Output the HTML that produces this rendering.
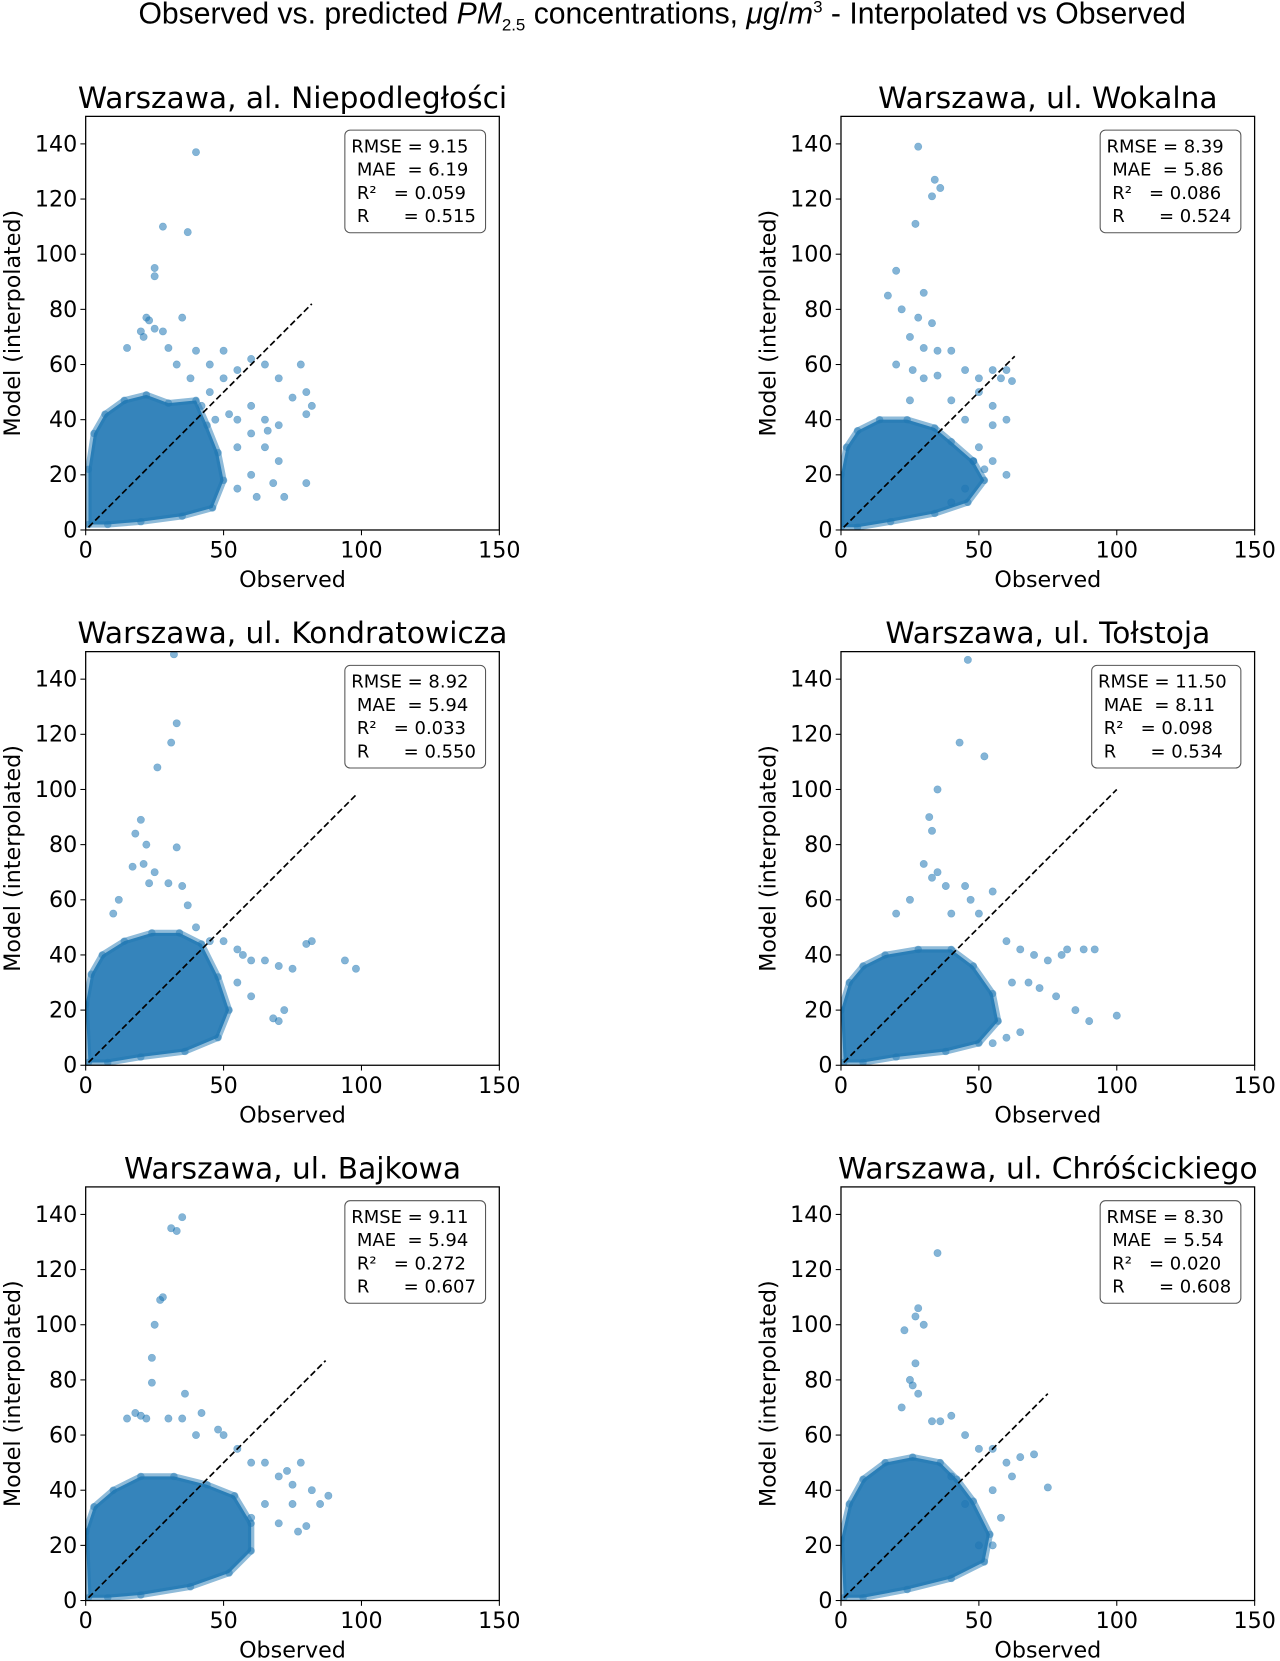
<!DOCTYPE html>
<html><head><meta charset="utf-8">
<style>
body{margin:0;background:#fff;}
svg{display:block;font-family:"DejaVu Sans","Liberation Sans",sans-serif;}
</style></head>
<body>
<svg width="1280" height="1661" viewBox="0 0 1280 1661">
<g id="chart" transform="scale(1.05785)">
<text x="626" y="22" text-anchor="middle" font-size="28.5" font-family="Liberation Sans, sans-serif">Observed vs. predicted <tspan font-style="italic">PM</tspan><tspan font-size="16" dy="7">2.5</tspan><tspan dy="-7"> concentrations, </tspan><tspan font-style="italic">μg</tspan>/<tspan font-style="italic">m</tspan><tspan font-size="16" dy="-10">3</tspan><tspan dy="10"> - Interpolated vs Observed</tspan></text>
</g>
</svg>
<script>
const panelTitles=["Warszawa, al. Niepodległości","Warszawa, ul. Wokalna","Warszawa, ul. Kondratowicza","Warszawa, ul. Tołstoja","Warszawa, ul. Bajkowa","Warszawa, ul. Chróścickiego"];
const rmseVals=["9.15","8.39","8.92","11.50","9.11","8.30"];
const maeVals=["6.19","5.86","5.94","8.11","5.94","5.54"];
const r2Vals=["0.059","0.086","0.033","0.098","0.272","0.020"];
const rVals=["0.515","0.524","0.550","0.534","0.607","0.608"];
const lineMax=[82,63,98,100,87,75];
const xTicks=[0,50,100,150];
const yTicks=[0,20,40,60,80,100,120,140];
const coreP1=[[1,2],[1,22],[3,35],[7,42],[14,47],[22,49],[30,46],[40,47],[44,38],[48,28],[50,18],[46,8],[35,5],[20,3],[8,2]];
const coreP2=[[0,1],[0,20],[2,30],[6,36],[14,40],[24,40],[34,37],[40,32],[48,25],[52,18],[46,10],[34,6],[18,3],[6,1]];
const coreP3=[[1,1],[0,22],[2,33],[6,40],[14,45],[24,48],[34,48],[42,44],[48,32],[52,20],[48,10],[36,5],[20,3],[8,1]];
const coreP4=[[1,1],[0,20],[3,30],[8,36],[16,40],[28,42],[40,42],[48,36],[55,26],[57,16],[50,8],[38,5],[20,3],[8,1]];
const coreP5=[[1,1],[0,25],[3,34],[10,40],[20,45],[32,45],[44,42],[54,38],[60,28],[60,18],[52,10],[38,5],[20,2],[8,1]];
const coreP6=[[1,1],[0,22],[3,35],[8,44],[16,50],[26,52],[36,50],[42,44],[48,36],[54,24],[52,14],[40,8],[24,4],[8,1]];
const outP1=[[40,137],[28,110],[37,108],[25,95],[25,92],[22,77],[23,76],[35,77],[20,72],[21,70],[25,73],[28,72],[15,66],[30,66],[40,65],[50,65],[45,60],[55,58],[60,62],[65,60],[70,55],[78,60],[80,50],[82,45],[80,42],[75,48],[60,45],[65,40],[70,38],[60,35],[55,30],[65,30],[70,25],[60,20],[55,15],[68,17],[80,17],[72,12],[62,12],[50,55],[45,50],[33,60],[38,55],[42,45],[52,42],[55,40],[47,40],[66,36]];
const outP2=[[28,139],[34,127],[36,124],[33,121],[27,111],[20,94],[30,86],[17,85],[22,80],[28,77],[33,75],[25,70],[30,66],[35,65],[40,65],[20,60],[26,58],[30,55],[35,56],[45,58],[50,55],[55,58],[58,55],[60,58],[62,54],[50,50],[55,45],[60,40],[55,38],[45,40],[40,47],[25,47],[50,30],[55,25],[60,20],[52,22],[48,25],[45,15],[40,10]];
const outP3=[[32,149],[33,124],[31,117],[26,108],[20,89],[18,84],[22,80],[33,79],[17,72],[21,73],[25,70],[23,66],[30,66],[35,65],[12,60],[37,58],[10,55],[40,50],[45,45],[50,45],[55,42],[57,40],[60,38],[65,38],[70,36],[75,35],[80,44],[82,45],[94,38],[98,35],[68,17],[70,16],[72,20],[60,25],[55,30]];
const outP4=[[46,147],[43,117],[52,112],[35,100],[32,90],[33,85],[30,73],[35,70],[33,68],[38,65],[45,65],[47,60],[55,63],[50,55],[25,60],[20,55],[40,55],[60,45],[65,42],[70,40],[75,38],[80,40],[82,42],[88,42],[92,42],[62,30],[68,30],[72,28],[78,25],[85,20],[90,16],[100,18],[60,10],[55,8],[65,12]];
const outP5=[[35,139],[31,135],[33,134],[28,110],[27,109],[25,100],[24,88],[24,79],[36,75],[15,66],[18,68],[20,67],[22,66],[30,66],[35,66],[42,68],[48,62],[40,60],[50,60],[55,55],[60,50],[65,50],[70,45],[73,47],[75,42],[78,50],[82,40],[88,38],[85,35],[75,35],[65,35],[60,30],[70,28],[77,25],[80,27]];
const outP6=[[35,126],[28,106],[27,103],[30,100],[23,98],[27,86],[25,80],[26,78],[28,75],[33,65],[36,65],[40,67],[22,70],[45,60],[50,55],[55,55],[60,50],[65,52],[70,53],[75,41],[62,45],[55,40],[58,30],[55,20],[50,20],[45,35],[40,45]];
const cores=[coreP1,coreP2,coreP3,coreP4,coreP5,coreP6];
const outs=[outP1,outP2,outP3,outP4,outP5,outP6];
const origins=[[81,501],[795,501],[81,1007],[795,1007],[81,1513],[795,1513]];
const S=2.607, W=391;
const NS="http://www.w3.org/2000/svg";
const svg=document.getElementById('chart');
function mk(tag,attrs,parent,text){const e=document.createElementNS(NS,tag);for(const k in attrs)e.setAttribute(k,attrs[k]);if(text!==undefined)e.textContent=text;parent.appendChild(e);return e;}
for(let p=0;p<6;p++){
  const [ox,oy]=origins[p];
  const sx=v=>ox+v*S, sy=v=>oy-v*S;
  const g=mk('g',{},svg);
  
  
  const clipId='clip'+p;
  const cp=mk('clipPath',{id:clipId},g);mk('rect',{x:ox,y:oy-W,width:W,height:W},cp);
  const pg=mk('g',{'clip-path':'url(#'+clipId+')'},g);
  const poly=mk('polygon',{points:cores[p].map(d=>sx(d[0])+','+sy(d[1])).join(' '),fill:'#1f77b4','fill-opacity':0.9,stroke:'#1f77b4','stroke-opacity':0.5,'stroke-width':6,'stroke-linejoin':'round'},pg);
  
  
  cores[p].forEach(d=>{const c=mk('circle',{cx:sx(d[0]),cy:sy(d[1]),r:3.5,fill:'#1f77b4','fill-opacity':0.5},pg);
    
    });
  outs[p].forEach(d=>{const c=mk('circle',{cx:sx(d[0]),cy:sy(d[1]),r:3.5,fill:'#1f77b4','fill-opacity':0.55,stroke:'#1f77b4','stroke-opacity':0.4,'stroke-width':0.5},pg);
    
    });
  const ln=mk('line',{x1:sx(1),y1:sy(1),x2:sx(lineMax[p]),y2:sy(lineMax[p]),stroke:'#000','stroke-width':1.6,'stroke-dasharray':'6,3'},g);
  
  
  const fr=mk('rect',{x:ox,y:oy-W,width:W,height:W,fill:'none',stroke:'#000','stroke-width':1.2},g);
  
  
  xTicks.forEach(t=>{mk('line',{x1:sx(t),y1:oy,x2:sx(t),y2:oy+5,stroke:'#000'},g);
    const tx=mk('text',{x:sx(t),y:oy+26,'text-anchor':'middle','font-size':21},g,String(t));
    
    });
  yTicks.forEach(t=>{mk('line',{x1:ox-5,y1:sy(t),x2:ox,y2:sy(t),stroke:'#000'},g);
    const ty=mk('text',{x:ox-8,y:sy(t)+7,'text-anchor':'end','font-size':21},g,String(t));
    
    });
  const xl=mk('text',{x:ox+W/2,y:oy+54,'text-anchor':'middle','font-size':21},g,'Observed');
  
  
  const yl=mk('text',{x:0,y:0,'text-anchor':'middle','font-size':21,transform:'translate('+(ox-62)+','+(oy-W/2)+') rotate(-90)'},g,'Model (interpolated)');
  
  
  const tt=mk('text',{x:ox+W/2,y:oy-W-8,'text-anchor':'middle','font-size':28},g,panelTitles[p]);
  
  
  const bw=(p==3?141:133);
  const bx=ox+W-13-bw, by=oy-W+13;
  const sb=mk('rect',{x:bx,y:by,width:bw,height:97,rx:5,fill:'#fff',stroke:'#555','stroke-width':1},g);
  
  
  const lines=['RMSE = '+rmseVals[p],' MAE  = '+maeVals[p],' R²   = '+r2Vals[p],' R      = '+rVals[p]];
  lines.forEach((s,i)=>{const st=mk('text',{x:bx+6,y:by+21+i*22,'font-size':17},g,s);
    st.setAttribute('style','white-space:pre');
    
    });
}
</script>
</body></html>
